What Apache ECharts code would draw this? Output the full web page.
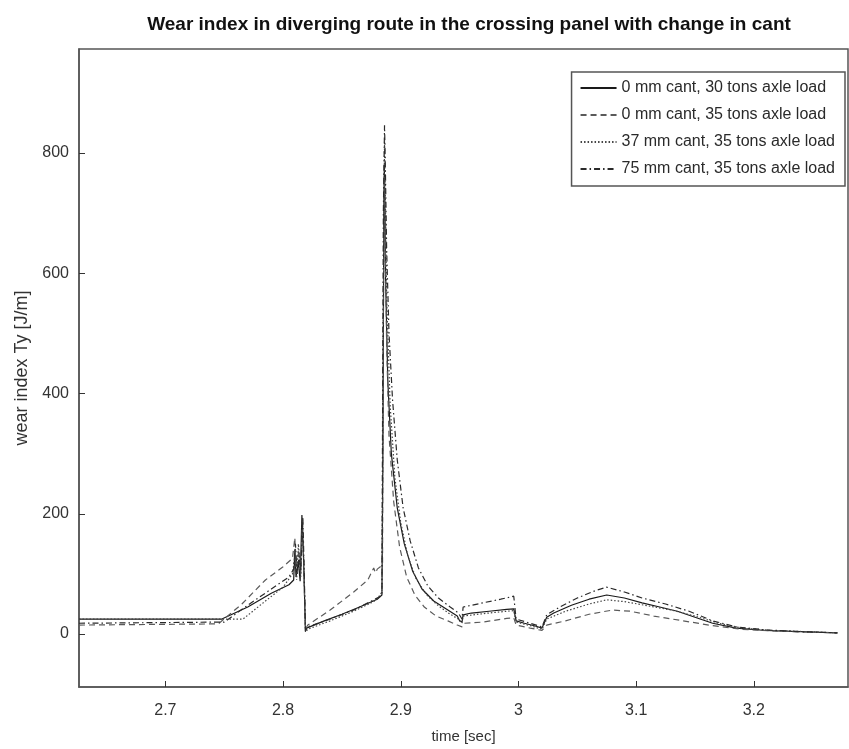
<!DOCTYPE html>
<html>
<head>
<meta charset="utf-8">
<script src="https://cdn.jsdelivr.net/npm/echarts@6/dist/echarts.min.js"></script>
<style>
html,body{margin:0;padding:0;background:#fff;}
#chart{width:849px;height:749px;}
</style>
</head>
<body>
<div id="chart"></div>
<script>
const seriesNames = [
  '0 mm cant, 30 tons axle load',
  '0 mm cant, 35 tons axle load',
  '37 mm cant, 35 tons axle load',
  '75 mm cant, 35 tons axle load'
];
const xTicks = [2.7, 2.8, 2.9, 3.0, 3.1, 3.2];
const yTicks = [0, 200, 400, 600, 800];

const t1 = [2.6266,2.748,2.770,2.790,2.805,2.809,2.810,2.811,2.813,2.8145,2.816,2.8175,2.819,2.820,2.835,2.850,2.865,2.880,2.884,2.8848,2.8852,2.8856,2.886,2.8865,2.887,2.889,2.892,2.897,2.903,2.910,2.918,2.928,2.940,2.948,2.950,2.952,2.953,2.960,2.975,2.990,2.996,2.998,3.005,3.015,3.020,3.024,3.030,3.045,3.060,3.075,3.090,3.105,3.120,3.135,3.150,3.165,3.185,3.210,3.240,3.271];
const v1 = [25,25,45,68,82,90,140,95,120,88,198,120,5,10,22,33,45,58,65,300,500,700,780,720,600,420,300,210,150,105,75,55,40,30,22,20,32,35,38,41,42,22,18,13,10,28,35,48,58,65,60,52,45,38,28,18,10,6,4,2];

const t2 = [2.6266,2.745,2.765,2.785,2.800,2.808,2.810,2.811,2.8135,2.815,2.8165,2.818,2.819,2.821,2.840,2.860,2.872,2.877,2.8785,2.880,2.8845,2.8850,2.8855,2.886,2.8866,2.888,2.890,2.894,2.899,2.905,2.912,2.920,2.930,2.940,2.948,2.952,2.954,2.970,2.990,2.996,2.998,3.010,3.020,3.024,3.040,3.060,3.080,3.095,3.115,3.140,3.165,3.190,3.220,3.250,3.271];
const v2 = [15,17,50,90,112,126,160,110,140,100,185,80,8,15,40,70,90,110,102,108,115,400,650,760,680,480,330,220,145,95,65,45,30,22,15,12,18,20,26,27,15,10,6,15,22,33,40,38,30,22,14,8,5,3,2];

const t3 = [2.6266,2.766,2.785,2.800,2.808,2.810,2.8115,2.813,2.815,2.8165,2.818,2.819,2.821,2.840,2.860,2.875,2.880,2.884,2.8848,2.8855,2.8862,2.8868,2.888,2.891,2.895,2.900,2.906,2.913,2.922,2.932,2.942,2.949,2.952,2.953,2.970,2.990,2.996,2.998,3.010,3.020,3.024,3.040,3.060,3.075,3.090,3.110,3.130,3.150,3.170,3.190,3.215,3.245,3.271];
const v3 = [25,25,55,78,100,130,90,150,95,190,90,3,8,22,38,52,58,70,350,650,820,740,560,380,260,185,130,92,65,47,33,25,18,30,34,38,39,20,14,8,25,38,50,57,54,47,40,30,18,10,6,4,2];

const t4 = [2.6266,2.750,2.770,2.790,2.805,2.809,2.8105,2.812,2.8135,2.815,2.8168,2.818,2.819,2.821,2.840,2.860,2.875,2.882,2.884,2.8846,2.8852,2.8862,2.8868,2.888,2.890,2.893,2.897,2.902,2.908,2.915,2.923,2.932,2.942,2.949,2.952,2.953,2.970,2.985,2.996,2.998,3.010,3.020,3.024,3.035,3.050,3.065,3.075,3.090,3.105,3.125,3.145,3.165,3.185,3.210,3.240,3.271];
const v4 = [18,20,48,75,95,108,150,100,130,105,195,100,6,12,25,40,55,62,68,400,700,846,790,640,500,390,290,210,155,110,80,60,45,35,25,45,52,58,63,25,18,12,32,45,60,72,78,70,60,50,38,22,12,7,4,2];

function pairs(t, v){ return t.map((x,i)=>[x, v[i]]); }

const styles = [
  {color:'#1a1a1a', type:'solid'},
  {color:'#5a5a5a', type:[6,4]},
  {color:'#444444', type:[1.5,2]},
  {color:'#2a2a2a', type:[6,3,1.5,3]}
];
const dataSets = [pairs(t1,v1), pairs(t2,v2), pairs(t3,v3), pairs(t4,v4)];

const chart = echarts.init(document.getElementById('chart'), null, {renderer:'canvas'});
const font = 'Liberation Sans, Arial, sans-serif';
chart.setOption({
  backgroundColor:'#ffffff',
  animation:false,
  title:{
    text:'Wear index in diverging route in the crossing panel with change in cant',
    left:464, top:10, textAlign:'center',
    textStyle:{fontFamily:font, fontSize:19, fontWeight:'bold', color:'#111'}
  },
  legend:{
    orient:'vertical', right:4, top:72,
    padding:[8,10,9,8],
    itemWidth:36, itemHeight:14, itemGap:11,
    borderColor:'#555', borderWidth:1.5, backgroundColor:'#fff',
    itemStyle:{opacity:0},
    textStyle:{fontFamily:font, fontSize:16, color:'#2a2a2a'},
    data:seriesNames
  },
  grid:{left:79, right:1, top:49, bottom:62, show:true, borderColor:'#555', borderWidth:1.5, backgroundColor:'transparent'},
  xAxis:{
    type:'value', min:2.6266, max:3.28,
    name:'time [sec]', nameLocation:'middle', nameGap:42,
    nameTextStyle:{fontFamily:font, fontSize:15, color:'#333'},
    axisLine:{show:true, onZero:false, lineStyle:{color:'#555', width:1.5}},
    axisTick:{show:true, inside:true, length:6, customValues:xTicks, lineStyle:{color:'#333'}},
    axisLabel:{customValues:xTicks, margin:16, fontFamily:font, fontSize:16, color:'#333',
      formatter:v=> (Math.abs(v-3)<1e-9 ? '3' : v.toFixed(1))},
    splitLine:{show:false}
  },
  yAxis:{
    type:'value', min:-88, max:973,
    name:'wear index Ty [J/m]', nameLocation:'middle', nameGap:47,
    nameTextStyle:{fontFamily:font, fontSize:18, color:'#333'},
    axisLine:{show:true, onZero:false, lineStyle:{color:'#555', width:1.5}},
    axisTick:{show:true, inside:true, length:6, customValues:yTicks, lineStyle:{color:'#333'}},
    axisLabel:{customValues:yTicks, margin:10, fontFamily:font, fontSize:16, color:'#333'},
    splitLine:{show:false}
  },
  series: dataSets.map((d,i)=>({
    name:seriesNames[i], type:'line', data:d, symbol:'none', showSymbol:false,
    lineStyle:{color:styles[i].color, type:styles[i].type, width:1.2},
    itemStyle:{color:styles[i].color}
  }))
});
</script>
</body>
</html>
